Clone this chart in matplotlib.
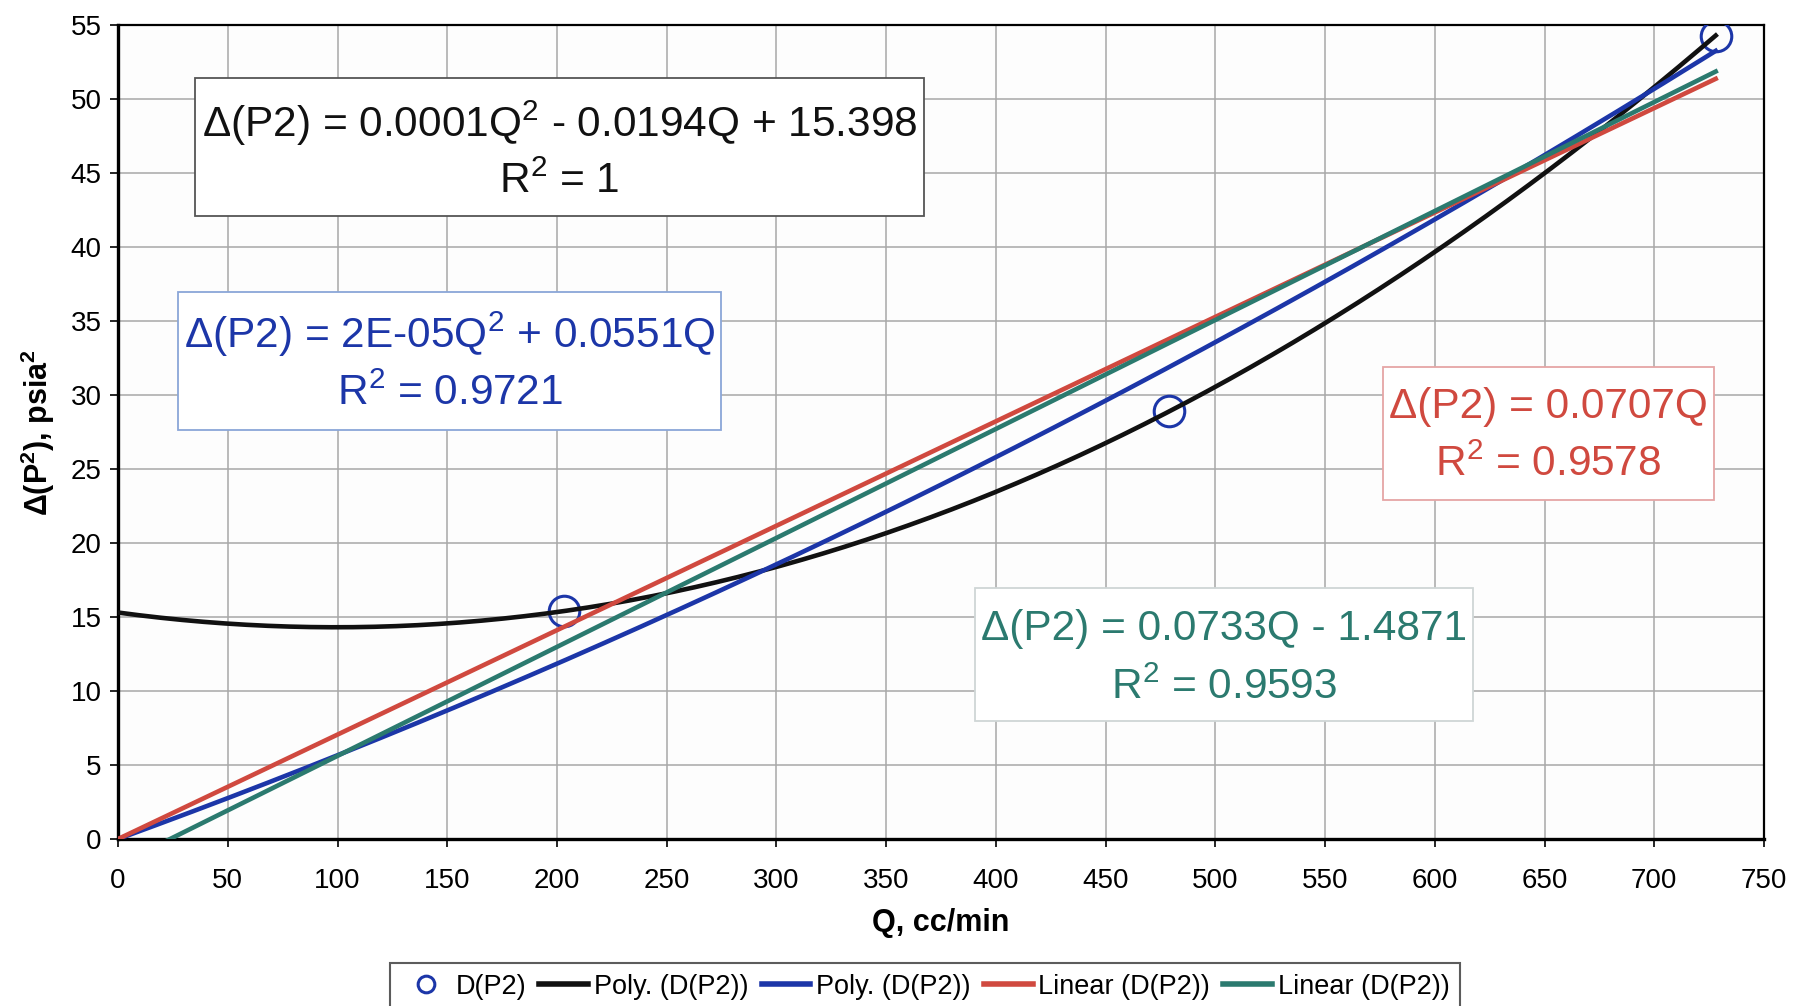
import numpy as np
import matplotlib
matplotlib.use("Agg")
import matplotlib.pyplot as plt
from matplotlib.patches import Rectangle
from matplotlib.lines import Line2D

plt.rcParams['font.family'] = ['Liberation Sans', 'DejaVu Sans']

# measured points
q = np.array([203, 479, 728])
dp2 = np.array([15.4, 28.9, 54.3])

# trendline labels (as printed on the chart)
eq_labels = [
    ("Δ(P2) = 0.0001Q$\\mathregular{^2}$ - 0.0194Q + 15.398", "R$\\mathregular{^2}$ = 1"),
    ("Δ(P2) = 2E-05Q$\\mathregular{^2}$ + 0.0551Q", "R$\\mathregular{^2}$ = 0.9721"),
    ("Δ(P2) = 0.0707Q", "R$\\mathregular{^2}$ = 0.9578"),
    ("Δ(P2) = 0.0733Q - 1.4871", "R$\\mathregular{^2}$ = 0.9593"),
]
legend_labels = ["D(P2)", "Poly. (D(P2))", "Poly. (D(P2))", "Linear (D(P2))", "Linear (D(P2))"]

c_black = "#111111"
c_blue = "#1c36a8"
c_red = "#d0493f"
c_teal = "#2b7a6f"

# trendlines fitted like Excel does
qq = np.linspace(0, q.max(), 300)
p_full = np.polyfit(q, dp2, 2)
A = np.column_stack([q ** 2, q])
a_b = np.linalg.lstsq(A, dp2, rcond=None)[0]
slope0 = np.sum(q * dp2) / np.sum(q * q)
p_lin = np.polyfit(q, dp2, 1)

fig = plt.figure(figsize=(18, 10.06), dpi=100)
ax = fig.add_axes([0.0656, 0.166, 0.9144, 0.809])
ax.set_facecolor("#fdfdfd")

ax.plot(q, dp2, 'o', ms=22, mfc='none', mec=c_blue, mew=2.2, zorder=3)
ax.plot(qq, np.polyval(p_full, qq), color=c_black, lw=3.3, zorder=4)
ax.plot(qq, a_b[0] * qq ** 2 + a_b[1] * qq, color=c_blue, lw=3.3, zorder=4)
ax.plot(qq, slope0 * qq, color=c_red, lw=3.3, zorder=4)
ax.plot(qq, np.polyval(p_lin, qq), color=c_teal, lw=3.3, zorder=4)

ax.set_xlim(0, 750)
ax.set_ylim(0, 55)
ax.set_xticks(np.arange(0, 751, 50))
ax.set_yticks(np.arange(0, 56, 5))
ax.grid(True, color="#a8a8a8", lw=1.1)
ax.set_axisbelow(True)
ax.tick_params(labelsize=20, direction='out', length=6, width=1.2, pad=6)
ax.tick_params(axis='x', pad=15)
for s in ['left', 'bottom']:
    ax.spines[s].set_linewidth(2.4)
for s in ['top', 'right']:
    ax.spines[s].set_linewidth(1.6)

ax.set_xlabel("Q, cc/min", fontsize=22, fontweight='bold', labelpad=10)
ax.set_ylabel("Δ(P$\\mathregular{^2}$), psia$\\mathregular{^2}$", fontsize=22, fontweight='bold', labelpad=10)

# equation boxes: (left, bottom, width, height, edge, text colour, line1 y, line2 y)
boxes = [
    (0.0467, 0.765, 0.443, 0.170, "#555555", c_black, 0.880, 0.808),
    (0.0365, 0.502, 0.330, 0.170, "#8aa6d8", c_blue, 0.620, 0.547),
    (0.7685, 0.4165, 0.201, 0.163, "#e5a5a5", c_red, 0.531, 0.460),
    (0.5207, 0.145, 0.3026, 0.163, "#cfd6d6", c_teal, 0.258, 0.186),
]
for (x0, y0, w, h, ec, tc, y1, y2), (l1, l2) in zip(boxes, eq_labels):
    ax.add_patch(Rectangle((x0, y0), w, h, transform=ax.transAxes, fc="white",
                           ec=ec, lw=1.3, zorder=5))
    cx = x0 + w / 2
    ax.text(cx, y1, l1, transform=ax.transAxes, ha='center', va='center',
            fontsize=30.5, color=tc, zorder=6)
    ax.text(cx, y2, l2, transform=ax.transAxes, ha='center', va='center',
            fontsize=30.5, color=tc, zorder=6)

handles = [
    Line2D([], [], ls='none', marker='o', ms=12, mfc='none', mec=c_blue, mew=2.2),
    Line2D([], [], color=c_black, lw=4),
    Line2D([], [], color=c_blue, lw=4),
    Line2D([], [], color=c_red, lw=4),
    Line2D([], [], color=c_teal, lw=4),
]
leg = fig.legend(handles, legend_labels, loc='lower center', bbox_to_anchor=(0.514, -0.018),
                 ncol=5, frameon=True, fancybox=False, edgecolor="#333333",
                 handlelength=1.8, handletextpad=0.2, columnspacing=0.5, borderpad=0.4,
                 prop={'size': 19.5})
leg.get_frame().set_linewidth(1.5)

fig.savefig("out.png", dpi=100)
